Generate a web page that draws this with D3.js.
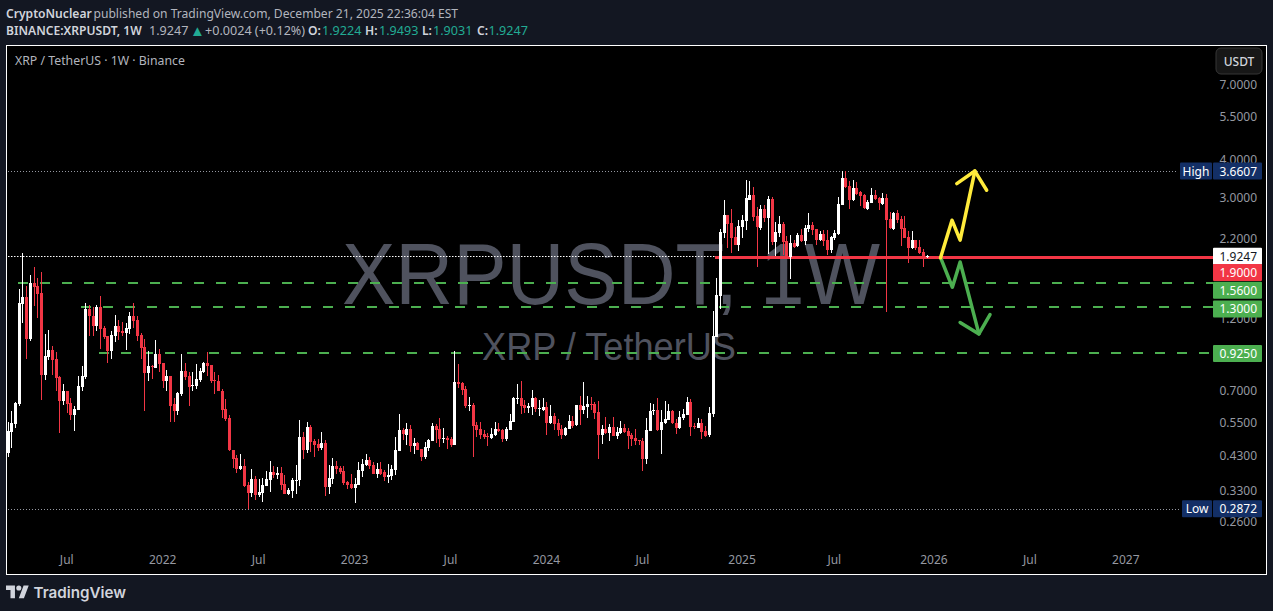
<!DOCTYPE html>
<html>
<head>
<meta charset="utf-8">
<title>XRPUSDT 1W</title>
<script src="https://cdn.jsdelivr.net/npm/d3@7.9.0/dist/d3.min.js"></script>
<style>
  html, body { margin: 0; padding: 0; background: #131722; overflow: hidden; }
  svg { display: block; }
  text { font-family: "Noto Sans", sans-serif; }
</style>
</head>
<body>
<svg id="chart" width="1273" height="611"></svg>
<script>
// weekly candles, week 0 = 15 Mar 2021
const opens = [
  .437,.511,.544,.632,1.342,1.414,1.031,1.572,1.537,1.458,
  .786,.900,.949,.886,.774,.646,.697,.636,.581,.604,
  .718,.774,1.292,1.226,1.137,1.312,1.120,1.054,.941,1.054,
  1.137,1.095,1.078,1.111,1.226,1.189,1.062,.970,.798,.841,
  .828,.920,.860,.751,.780,.632,.600,.681,.810,.780,
  .723,.723,.757,.804,.860,.847,.757,.751,.697,.609,
  .569,.446,.421,.387,.396,.343,.323,.359,.318,.323,
  .341,.356,.379,.370,.376,.346,.321,.328,.354,.356,
  .493,.446,.531,.478,.467,.453,.471,.338,.359,.396,
  .390,.381,.351,.346,.336,.343,.381,.399,.414,.399,
  .373,.387,.379,.365,.367,.384,.443,.519,.500,.523,
  .460,.471,.450,.424,.453,.478,.535,.523,.485,.489,
  .485,.464,.745,.740,.707,.622,.627,.539,.523,.504,
  .496,.489,.500,.523,.519,.485,.519,.552,.656,.661,
  .627,.613,.618,.661,.609,.604,.618,.548,.577,.548,
  .523,.500,.523,.556,.539,.627,.604,.618,.632,.632,
  .595,.500,.523,.508,.531,.496,.508,.527,.515,.500,
  .489,.481,.478,.417,.515,.600,.604,.519,.548,.560,
  .600,.548,.527,.569,.581,.641,.535,.527,.548,.515,
  .500,.586,1.046,1.425,2.291,2.624,2.470,2.223,2.093,2.397,
  2.508,2.938,3.051,2.604,2.379,2.745,2.565,2.960,2.141,2.291,
  2.452,2.157,1.912,2.125,2.078,2.257,2.157,2.361,2.433,2.361,
  2.174,2.274,2.174,2.016,2.206,2.274,2.829,3.468,3.265,2.938,
  3.216,3.121,3.051,2.745,2.873,3.051,2.983,2.851,2.983,2.546,
  2.361,2.664,2.546,2.379,2.223,2.047,2.174,2.062,1.986,1.9224
];
const highs = [
  .552,.600,.641,1.502,1.971,1.537,1.669,1.773,1.632,1.708,
  1.070,1.103,.978,.934,.780,.734,.697,.661,.622,.780,
  .841,1.352,1.332,1.312,1.332,1.425,1.137,1.054,1.095,1.235,
  1.189,1.171,1.163,1.263,1.352,1.226,1.078,1.031,.941,.847,
  1.023,.956,.860,.816,.780,.661,.691,.920,.860,.804,
  .804,.854,.828,.867,.934,.847,.804,.786,.707,.656,
  .581,.446,.430,.433,.417,.351,.387,.367,.359,.362,
  .381,.411,.396,.393,.393,.370,.336,.362,.399,.560,
  .511,.552,.539,.485,.485,.511,.481,.399,.421,.411,
  .396,.396,.354,.373,.362,.408,.417,.433,.424,.408,
  .405,.408,.384,.402,.399,.493,.586,.527,.548,.539,
  .489,.474,.450,.474,.485,.548,.544,.569,.527,.496,
  .493,.941,.854,.745,.723,.666,.636,.552,.552,.519,
  .508,.527,.552,.548,.523,.531,.586,.666,.734,.751,
  .651,.636,.702,.666,.651,.661,.641,.627,.591,.565,
  .539,.531,.581,.577,.627,.671,.745,.671,.666,.641,
  .646,.539,.573,.544,.573,.531,.556,.544,.527,.508,
  .523,.481,.489,.569,.636,.632,.661,.604,.646,.632,
  .604,.565,.600,.609,.666,.656,.548,.569,.565,.535,
  .618,1.273,1.632,2.361,2.938,2.624,2.745,2.397,2.527,2.624,
  3.416,3.391,3.241,2.787,2.829,2.829,3.028,3.005,2.489,2.604,
  2.489,2.240,2.257,2.174,2.291,2.361,2.433,2.664,2.489,2.361,
  2.326,2.343,2.343,2.240,2.343,3.005,3.6607,3.6607,3.391,3.416,
  3.365,3.144,3.074,2.938,3.216,3.168,3.005,3.097,3.074,2.684,
  2.684,2.725,2.604,2.604,2.326,2.326,2.174,2.174,2.031,1.9493
];
const lows = [
  .424,.453,.527,.622,1.163,.886,1.015,1.322,1.207,.651,
  .757,.880,.786,.697,.508,.627,.591,.560,.515,.604,
  .697,.762,1.054,1.054,1.095,.956,1.031,.860,.886,1.008,
  1.023,1.054,.949,1.070,1.120,1.015,.886,.600,.751,.762,
  .828,.804,.713,.697,.552,.552,.581,.671,.757,.622,
  .697,.707,.745,.798,.780,.740,.681,.697,.569,.556,
  .443,.390,.376,.384,.338,.2872,.314,.306,.314,.302,
  .341,.326,.362,.359,.330,.321,.318,.311,.321,.341,
  .417,.437,.440,.424,.443,.446,.316,.321,.346,.373,
  .373,.343,.333,.333,.300,.343,.365,.396,.387,.373,
  .362,.370,.354,.349,.356,.370,.443,.481,.464,.440,
  .433,.446,.411,.417,.443,.478,.471,.457,.471,.450,
  .457,.464,.713,.676,.613,.600,.424,.493,.485,.485,
  .460,.485,.496,.511,.474,.478,.519,.552,.632,.586,
  .591,.591,.581,.595,.577,.600,.500,.544,.519,.496,
  .485,.496,.523,.527,.535,.539,.586,.569,.604,.565,
  .417,.467,.504,.478,.496,.485,.504,.508,.450,.460,
  .464,.464,.381,.402,.515,.581,.515,.433,.544,.560,
  .544,.504,.523,.560,.581,.496,.523,.527,.485,.493,
  .493,.573,1.046,1.292,2.206,2.047,1.971,2.093,2.001,2.206,
  2.343,2.938,2.508,1.773,2.343,2.489,1.956,2.093,1.927,2.223,
  1.941,1.884,1.620,2.047,2.062,2.141,2.093,2.308,2.257,2.093,
  2.157,2.078,1.941,1.971,2.174,2.257,2.829,3.216,2.745,2.916,
  3.051,2.808,2.745,2.725,2.873,2.938,2.725,2.829,1.263,2.361,
  2.343,2.470,2.078,2.206,1.828,2.031,2.016,1.956,1.773,1.9031
];
const closes = [
  .515,.548,.636,1.352,1.414,1.031,1.572,1.525,1.447,.786,
  .907,.949,.880,.768,.646,.697,.632,.581,.609,.723,
  .780,1.292,1.226,1.137,1.312,1.111,1.046,.941,1.062,1.137,
  1.086,1.078,1.120,1.226,1.180,1.054,.963,.798,.841,.835,
  .920,.854,.751,.780,.622,.600,.686,.810,.774,.718,
  .729,.762,.810,.860,.841,.751,.751,.697,.604,.565,
  .446,.417,.387,.396,.341,.323,.359,.318,.326,.343,
  .359,.379,.370,.376,.343,.321,.330,.356,.356,.493,
  .446,.531,.474,.464,.453,.471,.338,.362,.396,.387,
  .379,.349,.343,.336,.346,.384,.402,.414,.396,.373,
  .387,.373,.365,.370,.387,.446,.519,.504,.523,.460,
  .471,.446,.424,.457,.481,.535,.519,.485,.489,.481,
  .464,.745,.734,.702,.622,.627,.535,.519,.500,.493,
  .493,.504,.523,.515,.485,.523,.556,.661,.661,.622,
  .613,.622,.661,.609,.613,.618,.548,.577,.544,.519,
  .500,.527,.556,.535,.627,.604,.622,.632,.627,.591,
  .500,.523,.508,.531,.496,.511,.527,.511,.496,.485,
  .478,.478,.417,.519,.600,.604,.519,.552,.565,.600,
  .548,.527,.573,.586,.641,.531,.531,.548,.511,.496,
  .591,1.054,1.436,2.308,2.624,2.452,2.206,2.093,2.415,2.527,
  2.983,3.051,2.585,2.397,2.745,2.565,2.960,2.141,2.308,2.452,
  2.141,1.884,2.125,2.062,2.257,2.157,2.379,2.433,2.343,2.174,
  2.274,2.157,2.016,2.223,2.291,2.851,3.468,3.241,2.938,3.216,
  3.074,3.028,2.766,2.894,3.051,2.960,2.873,2.983,2.527,2.379,
  2.664,2.527,2.361,2.206,2.047,2.174,2.047,1.971,1.927,1.9247
];

const priceTicks = [7, 5.5, 4, 3, 2.2, 1.2, 0.7, 0.55, 0.43, 0.33, 0.26];
const timeTickWeeks = [16, 42, 68, 94, 120, 146, 172, 199, 224, 251, 277, 303];
const timeTickLabels = ['Jul', '2022', 'Jul', '2023', 'Jul', '2024', 'Jul', '2025', 'Jul', '2026', 'Jul', '2027'];

const lastPrice = 1.9247;
const highPrice = 3.6607;
const lowPrice = 0.2872;

const levelPrices = [1.56, 1.3, 0.925];
const levelStartWeeks = [2.8, 19.9, 24.7];
const resistancePrice = 1.9;
const resistanceStartWeek = 191.7;

// the two hand drawn arrows
const yellowWeeks = [252.8, 255.9, 258.1, 262.1];
const yellowPrices = [1.905, 2.527, 2.174, 3.66];
const yellowHeadWeeks = [257.2, 262.1, 265.3];
const yellowHeadPrices = [3.33, 3.66, 3.168];
const greenWeeks = [252.8, 256, 258.1, 263.2];
const greenPrices = [1.905, 1.525, 1.845, 1.073];
const greenHeadWeeks = [258.1, 263.2, 266.2];
const greenHeadPrices = [1.169, 1.073, 1.241];

const RED = '#f23645', GREEN = '#4caf50', YELLOW = '#ffeb3b', NAVY = '#132f66', WHITE = '#ffffff';

const svg = d3.select('#chart');
const panel = { left: 6.5, top: 45.5, right: 1266.5, bottom: 574.5 };
const drawRight = 1213;

const x = d3.scaleLinear().domain([0, 303]).range([7.7, 1125.8]);
const y = d3.scaleLog().domain([7, 0.26]).range([85, 522]);

// header, pieces placed one by one because the widths differ from the original font
const head = svg.append('g').attr('font-size', 12.1);
const piece = (txt, px, py, col, weight) => head.append('text')
  .attr('x', px).attr('y', py).attr('fill', col).attr('font-weight', weight || 400).text(txt);

piece('CryptoNuclear', 6, 17.5, '#d1d4dc', 600);
piece('published on TradingView.com, December 21, 2025 22:36:04 EST', 93.5, 17.5, '#b2b5be');

piece('BINANCE:XRPUSDT, 1W', 6, 35, '#d1d4dc', 600);
piece('1.9247', 149, 35, '#b2b5be').attr('font-size', 12.6);
piece('▲', 190, 35.5, '#22ab94').attr('font-size', 15);
piece('+0.0024 (+0.12%)', 205, 35, '#b2b5be').attr('font-size', 12.6);
const ohlcKeys = ['O:', 'H:', 'L:', 'C:'];
const ohlcValues = ['1.9224', '1.9493', '1.9031', '1.9247'];
const ohlcKeyX = [308, 365, 422, 477];
const ohlcValueX = [322, 379, 433, 488.5];
ohlcKeys.forEach((k, i) => {
  piece(k, ohlcKeyX[i], 35, '#d1d4dc', 600);
  piece(ohlcValues[i], ohlcValueX[i], 35, '#22ab94').attr('font-size', 12.6);
});

// panel
svg.append('rect')
  .attr('x', panel.left).attr('y', panel.top)
  .attr('width', panel.right - panel.left).attr('height', panel.bottom - panel.top)
  .attr('fill', '#000').attr('stroke', '#fff').attr('stroke-width', 1);

// watermark sits under everything
svg.append('text').attr('x', 342).attr('y', 303.5)
  .attr('textLength', 538).attr('lengthAdjust', 'spacingAndGlyphs')
  .style('font-family', '"Liberation Sans", Arial, sans-serif')
  .attr('font-size', 87).attr('fill', '#4f525e').text('XRPUSDT, 1W');
svg.append('text').attr('x', 482).attr('y', 360)
  .attr('textLength', 254).attr('lengthAdjust', 'spacingAndGlyphs')
  .style('font-family', '"Liberation Sans", Arial, sans-serif')
  .attr('font-size', 38).attr('fill', '#4f525e').text('XRP / TetherUS');

svg.append('text').attr('x', 15).attr('y', 65).attr('font-size', 12.3).attr('fill', '#b2b5be')
  .text('XRP / TetherUS · 1W · Binance');

// high, low and last price dotted lines
const hline = (price, x0, x1) => svg.append('line')
  .attr('x1', x0).attr('x2', x1)
  .attr('y1', Math.round(y(price)) + 0.5).attr('y2', Math.round(y(price)) + 0.5);

hline(highPrice, 8, 1178).attr('stroke', '#9598a1').attr('stroke-dasharray', '1,2');
hline(lowPrice, 8, 1180).attr('stroke', '#9598a1').attr('stroke-dasharray', '1,2');
hline(lastPrice, 8, drawRight).attr('stroke', '#fff').attr('stroke-dasharray', '1.5,1.5');

// levels
svg.append('g').attr('shape-rendering', 'crispEdges')
  .selectAll('line').data(levelPrices).join('line')
  .attr('x1', (d, i) => x(levelStartWeeks[i])).attr('x2', drawRight)
  .attr('y1', d => Math.round(y(d)) - 1).attr('y2', d => Math.round(y(d)) - 1)
  .attr('stroke', GREEN).attr('stroke-width', 2).attr('stroke-dasharray', '10,12');

svg.append('line').attr('shape-rendering', 'crispEdges')
  .attr('x1', x(resistanceStartWeek)).attr('x2', drawRight)
  .attr('y1', Math.round(y(resistancePrice)) - 0.5).attr('y2', Math.round(y(resistancePrice)) - 0.5)
  .attr('stroke', RED).attr('stroke-width', 3);

// candles
const candles = closes.map((c, i) => ({ i, o: opens[i], h: highs[i], l: lows[i], c }));
const colour = d => d.c >= d.o ? WHITE : RED;
const g = svg.append('g').attr('shape-rendering', 'crispEdges');

g.selectAll('.wick').data(candles).join('rect')
  .attr('class', 'wick')
  .attr('x', d => Math.round(x(d.i)))
  .attr('width', 1)
  .attr('y', d => Math.round(y(d.h)))
  .attr('height', d => Math.max(1, Math.round(y(d.l)) - Math.round(y(d.h))))
  .attr('fill', colour);

g.selectAll('.body').data(candles).join('rect')
  .attr('class', 'body')
  .attr('x', d => Math.round(x(d.i)) - 1)
  .attr('width', 3)
  .attr('y', d => Math.round(y(Math.max(d.o, d.c))))
  .attr('height', d => Math.max(1, Math.round(y(Math.min(d.o, d.c))) - Math.round(y(Math.max(d.o, d.c)))))
  .attr('fill', colour);

// arrows
const arrowLine = d3.line().x(d => x(d[0])).y(d => y(d[1]));
const drawArrow = (weeks, prices, headWeeks, headPrices, col) => {
  [d3.zip(weeks, prices), d3.zip(headWeeks, headPrices)].forEach(pts => {
    svg.append('path').attr('d', arrowLine(pts))
      .attr('fill', 'none').attr('stroke', col).attr('stroke-width', 3.5)
      .attr('stroke-linejoin', 'round').attr('stroke-linecap', 'round');
  });
};
drawArrow(greenWeeks, greenPrices, greenHeadWeeks, greenHeadPrices, GREEN);
drawArrow(yellowWeeks, yellowPrices, yellowHeadWeeks, yellowHeadPrices, YELLOW);

// axes
const yAxis = d3.axisRight(y).tickValues(priceTicks).tickSize(0).tickPadding(0).tickFormat(d3.format('.4f'));
svg.append('g').attr('transform', 'translate(1257,0)').call(yAxis)
  .call(a => a.select('.domain').remove())
  .selectAll('text').attr('text-anchor', 'end').attr('x', 0)
  .style('font-family', '"Noto Sans", sans-serif').style('font-size', '12px').attr('fill', '#9598a1');

const xAxis = d3.axisBottom(x).tickValues(timeTickWeeks).tickSize(0).tickPadding(0)
  .tickFormat((d, i) => timeTickLabels[i]);
svg.append('g').attr('transform', 'translate(-0.5,555.5)').call(xAxis)
  .call(a => a.select('.domain').remove())
  .selectAll('text')
  .style('font-family', '"Noto Sans", sans-serif').style('font-size', '12px').attr('fill', '#9598a1');

// price tags on the right
const tagPrices = [highPrice, lastPrice, resistancePrice, 1.56, 1.3, 0.925, lowPrice];
const tagTexts = ['3.6607', '1.9247', '1.9000', '1.5600', '1.3000', '0.9250', '0.2872'];
const tagFills = [NAVY, WHITE, RED, GREEN, GREEN, GREEN, NAVY];
const tagInks = [WHITE, '#131722', WHITE, WHITE, WHITE, WHITE, WHITE];
const tagShift = [0, 0, 14.5, 6, 0.5, 0, 0];

const tags = svg.append('g').selectAll('g').data(tagPrices).join('g')
  .attr('transform', (d, i) => `translate(1213,${y(d) + tagShift[i]})`);
tags.append('rect').attr('x', 0).attr('y', -8.5).attr('width', 49).attr('height', 17)
  .attr('rx', 1).attr('fill', (d, i) => tagFills[i]);
tags.append('text').attr('x', 44).attr('y', 4.5).attr('text-anchor', 'end').attr('font-size', 12)
  .attr('fill', (d, i) => tagInks[i]).text((d, i) => tagTexts[i]);

[[highPrice, 'High', 1180], [lowPrice, 'Low', 1182]].forEach(([p, label, left]) => {
  svg.append('rect').attr('x', left).attr('y', y(p) - 8.5).attr('width', 1212 - left).attr('height', 17)
    .attr('rx', 1).attr('fill', NAVY);
  svg.append('text').attr('x', (left + 1212) / 2).attr('y', y(p) + 4.5).attr('text-anchor', 'middle')
    .attr('font-size', 12).attr('fill', '#fff').text(label);
});

// USDT button
svg.append('rect').attr('x', 1216).attr('y', 48).attr('width', 46).attr('height', 26).attr('rx', 5)
  .attr('fill', '#171717').attr('stroke', '#363636');
svg.append('text').attr('x', 1239).attr('y', 65.5).attr('text-anchor', 'middle')
  .attr('font-size', 12).attr('font-weight', 500).attr('fill', '#d1d4dc').text('USDT');

// footer logo
const logo = svg.append('g').attr('transform', 'translate(6,585.5) scale(0.64)').attr('fill', '#d1d4dc');
logo.append('path').attr('d', 'M14 20H7V7H0V0h14v20zM28 20h-8L27.5 0h8L28 20z');
logo.append('circle').attr('cx', 20).attr('cy', 4).attr('r', 4);
svg.append('text').attr('x', 33.5).attr('y', 598).attr('font-size', 15.2).attr('font-weight', 600)
  .style('font-family', 'Inter, sans-serif').attr('fill', '#d1d4dc').text('TradingView');
</script>
</body>
</html>
